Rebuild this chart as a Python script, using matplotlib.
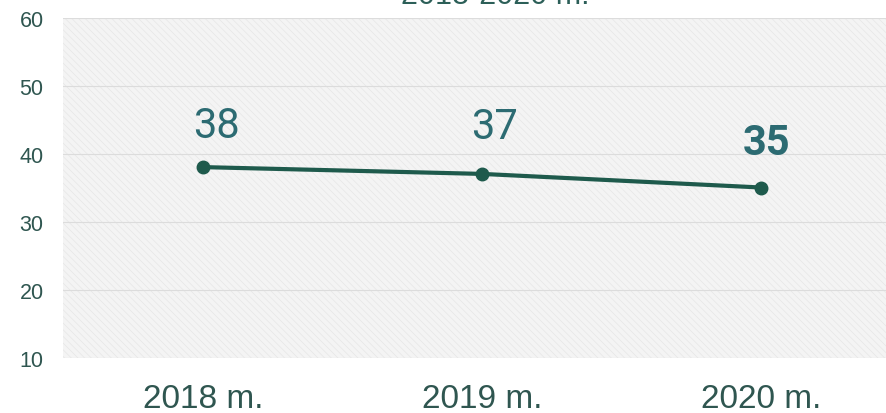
import matplotlib
matplotlib.use("Agg")
import matplotlib.pyplot as plt
from matplotlib.patches import Rectangle

categories = ["2018 m.", "2019 m.", "2020 m."]
values = [38, 37, 35]
label_weights = ["normal", "normal", "bold"]
yticks = [10, 20, 30, 40, 50, 60]
title = "2018-2020 m."

plt.rcParams["font.family"] = ["Liberation Sans", "DejaVu Sans"]
plt.rcParams["hatch.color"] = "#e4e4e4"
plt.rcParams["hatch.linewidth"] = 0.5

fig = plt.figure(figsize=(8.87, 4.14), dpi=100)
ax = fig.add_axes([0.071, 0.134, 0.929, 0.8213])
ax.set_facecolor("#f4f4f4")
ax.add_patch(Rectangle((0, 0), 1, 1, transform=ax.transAxes, facecolor="none",
                       edgecolor="#e6e6e6", hatch="\\\\\\\\\\", linewidth=0, zorder=0))

x = list(range(len(categories)))
ax.plot(x, values, color="#1e5a4c", linewidth=3, marker="o", markersize=9, zorder=3, clip_on=False)
offsets = [(9.4, 21.6), (9.0, 26.0), (3.6, 23.8)]
for xi, v, w, (dx, dy) in zip(x, values, label_weights, offsets):
    ax.annotate(str(v), (xi, v), xytext=(dx, dy), textcoords="offset points",
                ha="center", va="baseline", fontsize=30, color="#2c6b72",
                fontweight=w, family=["Roboto", "DejaVu Sans"])

ax.set_xlim(-0.502, 2.451)
ax.set_ylim(10, 60)
ax.set_yticks(yticks)
ax.set_xticks(x)
ax.set_xticklabels(categories)
ax.yaxis.grid(True, color="#dcdcdc", linewidth=0.8)
ax.set_axisbelow(True)
for s in ax.spines.values():
    s.set_visible(False)
ax.tick_params(axis="y", length=0, labelsize=15.5, labelcolor="#2f5650", pad=14)
ax.tick_params(axis="x", length=0, labelsize=24, labelcolor="#2f5650", pad=18)

fig.text(0.558, 0.990, title, ha="center", va="baseline", fontsize=22, color="#2c5f58")

fig.savefig("out.png", dpi=100, facecolor="white")
